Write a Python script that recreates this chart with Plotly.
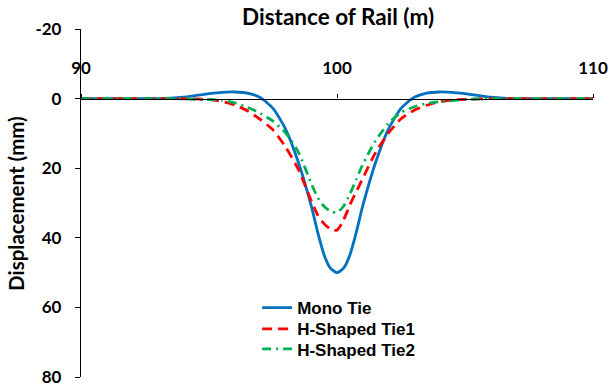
import plotly.graph_objects as go

# Distance along rail (m)
distance = [90, 90.5, 91, 91.5, 92, 92.5, 93, 93.5, 94, 94.5, 95, 95.5, 96, 96.5, 97, 97.5,
            98, 98.5, 99, 99.25, 99.5, 99.75, 100, 100.25, 100.5, 100.75, 101, 101.5, 102, 102.5,
            103, 103.5, 104, 104.5, 105, 105.5, 106, 106.5, 107, 107.5, 108, 108.5, 109, 109.5, 110]

mono_tie = [0, 0, 0, 0, 0, 0, 0, -0.1, -0.4, -0.9, -1.4, -1.8, -1.9, -1.6, -0.3, 2.8,
            8.9, 18.5, 31, 38.5, 45, 48.8, 50, 48.8, 45, 38.5, 31, 18.5, 8.9, 2.8,
            -0.3, -1.6, -1.9, -1.8, -1.4, -0.9, -0.4, -0.1, 0, 0, 0, 0, 0, 0, 0]

h_tie1 = [0, 0, 0, 0, 0, 0, 0, 0, 0.05, 0.1, 0.3, 0.8, 1.8, 3.5, 6, 9,
          14, 20.5, 29.5, 33.5, 36, 37.5, 37.8, 35, 30.6, 26.8, 23, 15.6, 10, 5.8,
          3.4, 1.9, 0.9, 0.4, 0.2, 0.1, 0, 0, 0, 0, 0, 0, 0, 0, 0]

h_tie2 = [0, 0, 0, 0, 0, 0, 0, 0, 0.05, 0.2, 0.3, 0.5, 1.2, 2.5, 4.2, 6.5,
          9.9, 15.5, 24.5, 28.5, 31, 32.4, 32.7, 31, 27.5, 23.3, 19, 12.2, 7.2, 4,
          2.4, 1.4, 0.9, 0.6, 0.3, 0.1, 0, 0, 0, 0, 0, 0, 0, 0, 0]

x_ticks = [90, 100, 110]
y_ticks = [-20, 0, 20, 40, 60, 80]

axis_font = dict(family="Lato, 'Open Sans', sans-serif", size=17, color="black", weight="bold")
legend_font = dict(family="'Liberation Sans', Arial, sans-serif", size=17, color="black", weight="bold")

fig = go.Figure()
fig.add_trace(go.Scatter(x=distance, y=mono_tie, mode="lines", name="Mono Tie", legend="legend",
                         line=dict(color="#0070C0", width=2.8, shape="spline", smoothing=0.6)))
fig.add_trace(go.Scatter(x=distance, y=h_tie1, mode="lines", name="H-Shaped Tie1", legend="legend2",
                         line=dict(color="#FF0000", width=2.8, dash="10px,6px", shape="spline", smoothing=0.6)))
fig.add_trace(go.Scatter(x=distance, y=h_tie2, mode="lines", name="H-Shaped Tie2", legend="legend3",
                         line=dict(color="#00B050", width=2.8, dash="9px,5px,2px,5px", shape="spline", smoothing=0.6)))

legend_common = dict(x=0.344, xanchor="left", yanchor="top", font=legend_font,
                     bgcolor="rgba(0,0,0,0)")

fig.update_layout(
    width=609, height=387,
    margin=dict(l=81, r=16, t=29, b=10, autoexpand=False),
    paper_bgcolor="white", plot_bgcolor="white",
    showlegend=True,
    legend=dict(legend_common, y=0.250),
    legend2=dict(legend_common, y=0.189),
    legend3=dict(legend_common, y=0.131),
    xaxis=dict(range=[90, 110], tickvals=x_ticks, ticktext=[str(v) for v in x_ticks],
               side="top", anchor="free", position=0.8, automargin=False,
               showline=True, linecolor="black", linewidth=1.3,
               ticks="outside", ticklen=4, tickcolor="black", tickwidth=1.3,
               showgrid=False, zeroline=False,
               tickfont=axis_font, ticklabelstandoff=14),
    yaxis=dict(range=[80, -20], tickvals=y_ticks, ticktext=[str(v) for v in y_ticks],
               automargin=False,
               showline=True, linecolor="black", linewidth=1.3,
               ticks="outside", ticklen=5, tickcolor="black", tickwidth=1.3,
               showgrid=False, zeroline=False,
               tickfont=axis_font, ticklabelstandoff=10),
    annotations=[
        dict(text="<b>Distance of Rail (m)</b>", xref="paper", yref="paper", x=0.502, y=1.037,
             xanchor="center", yanchor="middle", showarrow=False,
             font=dict(family="Lato, 'Open Sans', sans-serif", size=22.5, color="black")),
        dict(text="<b>Displacement (mm)</b>", xref="paper", yref="paper", x=-0.127, y=0.5,
             xanchor="center", yanchor="middle", showarrow=False, textangle=-90,
             font=dict(family="Lato, 'Open Sans', sans-serif", size=20.5, color="black")),
    ],
)

fig.write_html("out.html", config={"displayModeBar": False},
               post_script="document.body.style.margin='0';document.body.style.padding='0';")
